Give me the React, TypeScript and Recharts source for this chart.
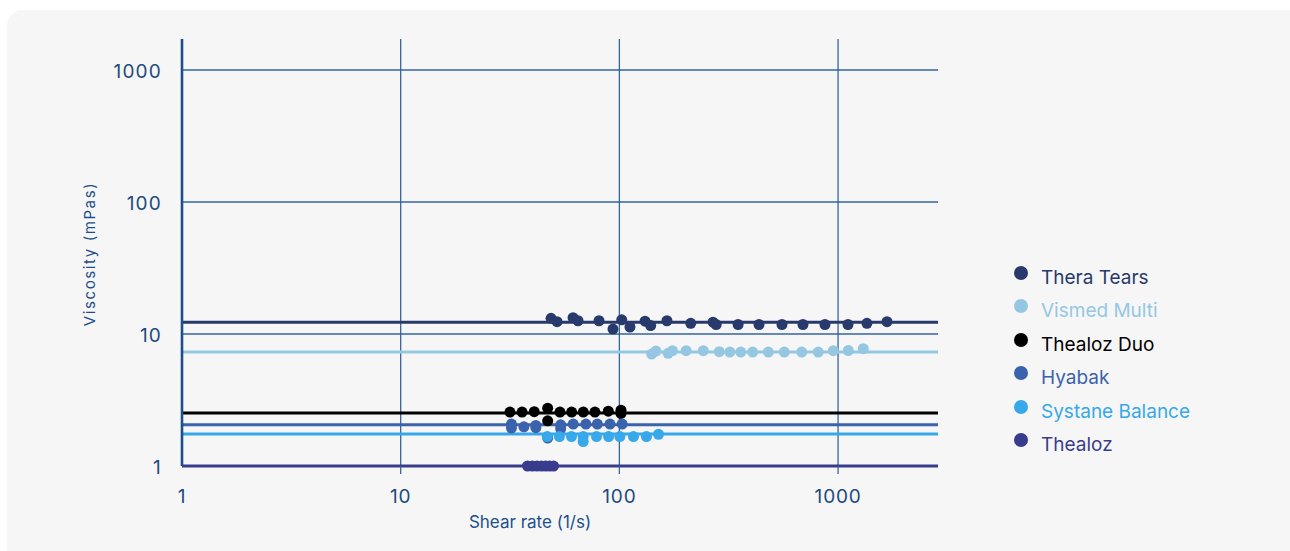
import { ScatterChart, Scatter, XAxis, YAxis, ReferenceLine } from 'recharts'

// shear rate (1/s) / viscosity (mPas) readings per product
const theraTearsShear = [48.7, 51.9, 61.4, 64.7, 80.7, 93.5, 102.5, 111.8, 131, 139, 165, 212, 268, 277, 349, 435, 554, 691, 871, 1110, 1355, 1674]
const theraTearsViscosity = [13.15, 12.4, 13.3, 12.6, 12.6, 10.9, 12.8, 11.3, 12.5, 11.6, 12.6, 12.05, 12.3, 11.8, 11.8, 11.8, 11.8, 11.8, 11.8, 11.8, 12.05, 12.4]

const vismedShear = [140.5, 147, 167, 175, 202, 242, 286, 320, 359, 407, 480, 568, 682, 812, 951, 1114, 1304]
const vismedViscosity = [7.05, 7.43, 7.14, 7.47, 7.47, 7.47, 7.34, 7.3, 7.3, 7.3, 7.3, 7.3, 7.3, 7.3, 7.47, 7.5, 7.74]

const thealozDuoShear = [31.6, 35.9, 40.8, 47, 47, 53.5, 60.5, 68.4, 77.3, 89, 101.7, 101.7]
const thealozDuoViscosity = [2.56, 2.56, 2.58, 2.74, 2.2, 2.56, 2.56, 2.56, 2.56, 2.6, 2.65, 2.5]

const hyabakShear = [32.1, 32.1, 36.6, 41.5, 41.5, 47, 53.9, 53.9, 61.5, 70.3, 79.3, 90.6, 103]
const hyabakViscosity = [2.08, 1.94, 1.98, 2.03, 1.95, 1.63, 2.05, 1.92, 2.08, 2.08, 2.08, 2.08, 2.08]

const systaneShear = [46.8, 53.2, 60.4, 68.3, 68.3, 78.6, 89.3, 100.5, 116, 133, 151]
const systaneViscosity = [1.67, 1.67, 1.67, 1.67, 1.53, 1.67, 1.67, 1.67, 1.67, 1.67, 1.74]

const thealozShear = [38, 40, 42, 44, 46, 48, 50]
const thealozViscosity = [1, 1, 1, 1, 1, 1, 1]

// mean level drawn as a horizontal line for each product
const theraTearsLevel = 12.3
const vismedLevel = 7.3
const thealozDuoLevel = 2.52
const hyabakLevel = 2.05
const systaneLevel = 1.75
const thealozLevel = 1

const ticks = [1, 10, 100, 1000]
const gridValues = [10, 100, 1000]

const COLORS: Record<string, string> = {
  'Thera Tears': '#283a6b',
  'Vismed Multi': '#95c7e3',
  'Thealoz Duo': '#000000',
  'Hyabak': '#3b62ad',
  'Systane Balance': '#37a8ea',
  'Thealoz': '#393c8c',
}

const GRID = '#35659b'
const TICK = '#1e4a7e'
const FONT = 'Inter, "Noto Sans", sans-serif'

const toPoints = (xs: number[], ys: number[]) => xs.map((x, i) => ({ x, y: ys[i] }))

const series = [
  { name: 'Thera Tears', data: toPoints(theraTearsShear, theraTearsViscosity), level: theraTearsLevel },
  { name: 'Vismed Multi', data: toPoints(vismedShear, vismedViscosity), level: vismedLevel },
  { name: 'Thealoz Duo', data: toPoints(thealozDuoShear, thealozDuoViscosity), level: thealozDuoLevel },
  { name: 'Hyabak', data: toPoints(hyabakShear, hyabakViscosity), level: hyabakLevel },
  { name: 'Systane Balance', data: toPoints(systaneShear, systaneViscosity), level: systaneLevel },
  { name: 'Thealoz', data: toPoints(thealozShear, thealozViscosity), level: thealozLevel },
]

function ShearTick(props: any) {
  const { x, y, payload } = props
  return (
    <g>
      {payload.value !== 1 && <line x1={x} x2={x} y1={y - 24} y2={y - 16} stroke={GRID} strokeWidth={1.3} />}
      <text x={x} y={y} dy="0.71em" textAnchor="middle" fill={TICK} fontSize={19} letterSpacing={0.8} fontFamily={FONT}>
        {payload.value}
      </text>
    </g>
  )
}

function ViscosityTick(props: any) {
  const { x, y, payload } = props
  return (
    <text x={x} y={y} dy={8} textAnchor="end" fill={TICK} fontSize={19} letterSpacing={1.2} fontFamily={FONT}>
      {payload.value}
    </text>
  )
}

export default function App() {
  return (
    <div style={{ position: 'fixed', inset: 0, background: '#ffffff', fontFamily: FONT }}>
      <div style={{ position: 'absolute', left: 7, top: 10, width: 1320, height: 600, background: '#f6f6f6', borderRadius: 16 }} />
      <div style={{ position: 'absolute', left: 0, top: 0 }}>
        <ScatterChart width={1290} height={551} margin={{ top: 39, right: 352, bottom: 25, left: 0 }}>
          <XAxis
            type="number"
            dataKey="x"
            scale="log"
            domain={[1, 2864]}
            ticks={ticks}
            height={60}
            axisLine={false}
            tickLine={false}
            tickSize={0}
            tickMargin={24}
            tick={<ShearTick />}
            label={{
              content: (p: any) => (
                <text x={p.viewBox.x + p.viewBox.width / 2 - 30} y={528} textAnchor="middle" fill="#1d4f8a" fontSize={17} fontFamily={FONT}>
                  Shear rate (1/s)
                </text>
              ),
            }}
          />
          <YAxis
            type="number"
            dataKey="y"
            scale="log"
            domain={[1, 1717]}
            ticks={ticks}
            width={182}
            axisLine={{ stroke: '#1d4f8a', strokeWidth: 2.6 }}
            tickLine={false}
            tickSize={0}
            tickMargin={20}
            tick={<ViscosityTick />}
            label={{
              content: () => (
                <text
                  x={95}
                  y={254}
                  transform="rotate(-90 95 254)"
                  textAnchor="middle"
                  fill="#1d4f8a"
                  fontSize={15}
                  letterSpacing={1.6}
                  fontFamily={FONT}
                >
                  Viscosity (mPas)
                </text>
              ),
            }}
          />
          {gridValues.map((v) => (
            <ReferenceLine key={'gx' + v} x={v} stroke={GRID} strokeWidth={1.3} />
          ))}
          {gridValues.map((v) => (
            <ReferenceLine key={'gy' + v} y={v} stroke={GRID} strokeWidth={1.3} />
          ))}
          {series.map((s) => (
            <ReferenceLine key={s.name + '-level'} y={s.level} stroke={COLORS[s.name]} strokeWidth={3} ifOverflow="visible" />
          ))}
          {series.map((s) => (
            <Scatter
              key={s.name}
              name={s.name}
              data={s.data}
              fill={COLORS[s.name]}
              isAnimationActive={false}
              shape={(p: any) => <circle cx={p.cx} cy={p.cy} r={5.5} fill={COLORS[s.name]} />}
            />
          ))}
        </ScatterChart>
      </div>
      <div style={{ position: 'absolute', left: 1014, top: 265 }}>
        {series.map((s) => (
          <div key={s.name} style={{ display: 'flex', alignItems: 'flex-start', height: 33.4 }}>
            <div style={{ width: 14, height: 14, borderRadius: 7, background: COLORS[s.name], marginTop: 1, marginRight: 13 }} />
            <span style={{ fontSize: 19, lineHeight: '26px', color: COLORS[s.name] }}>{s.name}</span>
          </div>
        ))}
      </div>
    </div>
  )
}
